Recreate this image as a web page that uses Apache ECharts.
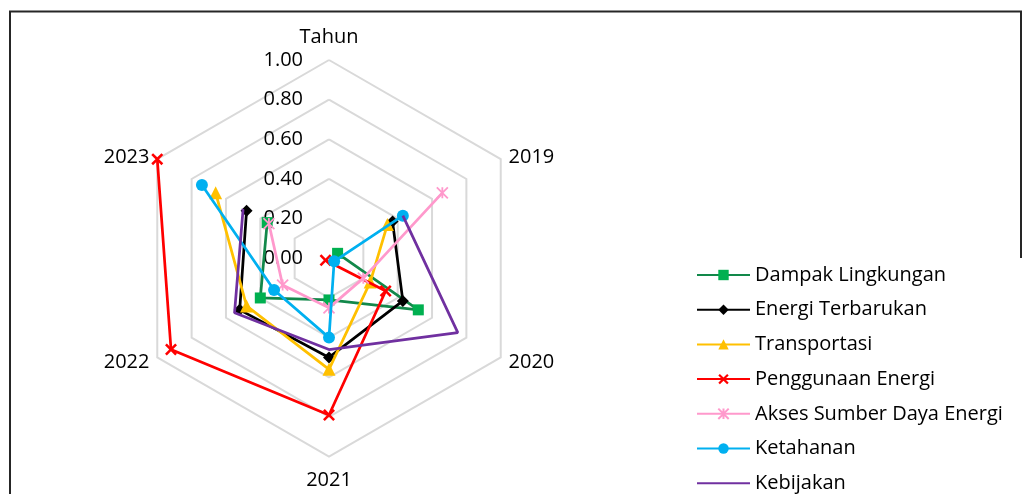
<!DOCTYPE html>
<html>
<head>
<meta charset="utf-8">
<script src="https://cdn.jsdelivr.net/npm/echarts@6/dist/echarts.min.js"></script>
<style>
html,body{margin:0;padding:0;background:#fff;}
#chart{width:1024px;height:494px;}
</style>
</head>
<body>
<div id="chart"></div>
<script>
// Categories (axes of the radar, clockwise from top)
const categories = ['Tahun', '2019', '2020', '2021', '2022', '2023'];
// Tick labels of the value axis
const tickLabels = ['0.00', '0.20', '0.40', '0.60', '0.80', '1.00'];
// Series values (Tahun has no value)
const dampakLingkungan = [null, 0.05, 0.52, 0.21, 0.40, 0.36];
const energiTerbarukan = [null, 0.37, 0.43, 0.50, 0.52, 0.48];
const transportasi     = [null, 0.34, 0.24, 0.56, 0.48, 0.66];
const penggunaanEnergi = [null, -0.02, 0.33, 0.79, 0.92, 1.00];
const aksesSumberDaya  = [null, 0.66, 0.20, 0.25, 0.27, 0.35];
const ketahanan        = [null, 0.43, 0.03, 0.40, 0.32, 0.74];
const kebijakan        = [null, 0.43, 0.75, 0.46, 0.55, 0.50];
const seriesNames = ['Dampak Lingkungan', 'Energi Terbarukan', 'Transportasi', 'Penggunaan Energi',
  'Akses Sumber Daya Energi', 'Ketahanan', 'Kebijakan'];

const FONT = 'Open Sans';
const CX = 329, CY = 258.3, R = 198.3;

const X_PATH = 'path://M1.5,0L5,3.5L8.5,0L10,1.5L6.5,5L10,8.5L8.5,10L5,6.5L1.5,10L0,8.5L3.5,5L0,1.5Z';
const STAR_PATH = 'path://M0,0L10,10M10,0L0,10M5,0L5,10';

const styles = [
  {data: dampakLingkungan, line: '#12884A', mark: '#00B050', symbol: 'rect', size: 11},
  {data: energiTerbarukan, line: '#000000', mark: '#000000', symbol: 'diamond', size: 12},
  {data: transportasi, line: '#FFC000', mark: '#FFC000', symbol: 'triangle', size: 13},
  {data: penggunaanEnergi, line: '#FF0000', mark: '#FF0000', symbol: X_PATH, size: 12},
  {data: aksesSumberDaya, line: '#FF99CC', mark: '#FF99CC', symbol: STAR_PATH, size: 11, stroke: true},
  {data: ketahanan, line: '#00B0F0', mark: '#00B0F0', symbol: 'circle', size: 12},
  {data: kebijakan, line: '#7030A0', mark: '#7030A0', symbol: 'none', size: 0}
];

// radar indicators run counter-clockwise, so order them for matching placement
const radarOrder = [0, 5, 4, 3, 2, 1];

const chart = echarts.init(document.getElementById('chart'));
chart.setOption({
  animation: false,
  backgroundColor: '#fff',
  textStyle: {fontFamily: FONT},
  graphic: [{
    type: 'polyline',
    shape: {points: [[1021, 258], [1021, 11.5], [10, 11.5], [10, 494]]},
    style: {stroke: '#262626', lineWidth: 2, fill: null},
    silent: true
  }],
  radar: {
    center: [CX, CY],
    radius: R,
    startAngle: 90,
    splitNumber: 5,
    shape: 'polygon',
    indicator: radarOrder.map(i => ({name: categories[i], min: 0, max: 1})),
    nameGap: 9,
    axisName: {
      color: '#000', fontSize: 20, fontFamily: FONT,
      formatter: function (name) {
        if (name === 'Tahun') return '{t|' + name + '}';
        if (name === '2021') return '{b|' + name + '}';
        if (name === '2019' || name === '2023') return '{u|' + name + '}';
        return name;
      },
      rich: {
        t: {color: '#000', fontSize: 20, fontFamily: FONT, padding: [0, 0, 4, 0]},
        b: {color: '#000', fontSize: 20, fontFamily: FONT, padding: [5, 0, 0, 0]},
        u: {color: '#000', fontSize: 20, fontFamily: FONT, padding: [6, 0, 0, 0]}
      }
    },
    axisLine: {show: false},
    axisTick: {show: false},
    axisLabel: {show: false},
    splitArea: {show: false},
    splitLine: {lineStyle: {color: '#D9D9D9', width: 2}}
  },
  polar: {center: [CX, CY], radius: R},
  angleAxis: {
    type: 'category', data: categories, boundaryGap: false,
    startAngle: 90, clockwise: true,
    axisLine: {show: false}, axisTick: {show: false}, axisLabel: {show: false},
    splitLine: {show: false}, splitArea: {show: false}
  },
  radiusAxis: {
    type: 'value', min: 0, max: 1, interval: 0.2,
    axisLine: {show: false}, axisTick: {show: false},
    splitLine: {show: false}, splitArea: {show: false},
    axisLabel: {
      show: true, margin: 26, color: '#000', fontSize: 20, fontFamily: FONT,
      formatter: function (v) { return tickLabels[Math.round(v / 0.2)]; }
    },
    z: 1
  },
  legend: {
    orient: 'vertical',
    left: 696,
    top: 265,
    height: 300,
    padding: 0,
    itemWidth: 53,
    itemHeight: 13,
    itemGap: 14.7,
    textStyle: {color: '#000', fontSize: 20, fontFamily: FONT, lineHeight: 20},
    data: seriesNames.map((n, i) => styles[i].symbol === 'none'
      ? {name: n, itemStyle: {opacity: 0}}
      : n)
  },
  series: styles.map((s, i) => ({
    type: 'line',
    coordinateSystem: 'polar',
    name: seriesNames[i],
    data: s.data,
    connectNulls: false,
    symbol: s.symbol,
    symbolSize: s.size,
    showSymbol: s.symbol !== 'none',
    lineStyle: {color: s.line, width: 2.75},
    itemStyle: s.stroke
      ? {color: s.mark, borderColor: s.mark, borderWidth: 1.8}
      : {color: s.mark, borderWidth: 0},
    z: 3 + i
  }))
});
</script>
</body>
</html>
